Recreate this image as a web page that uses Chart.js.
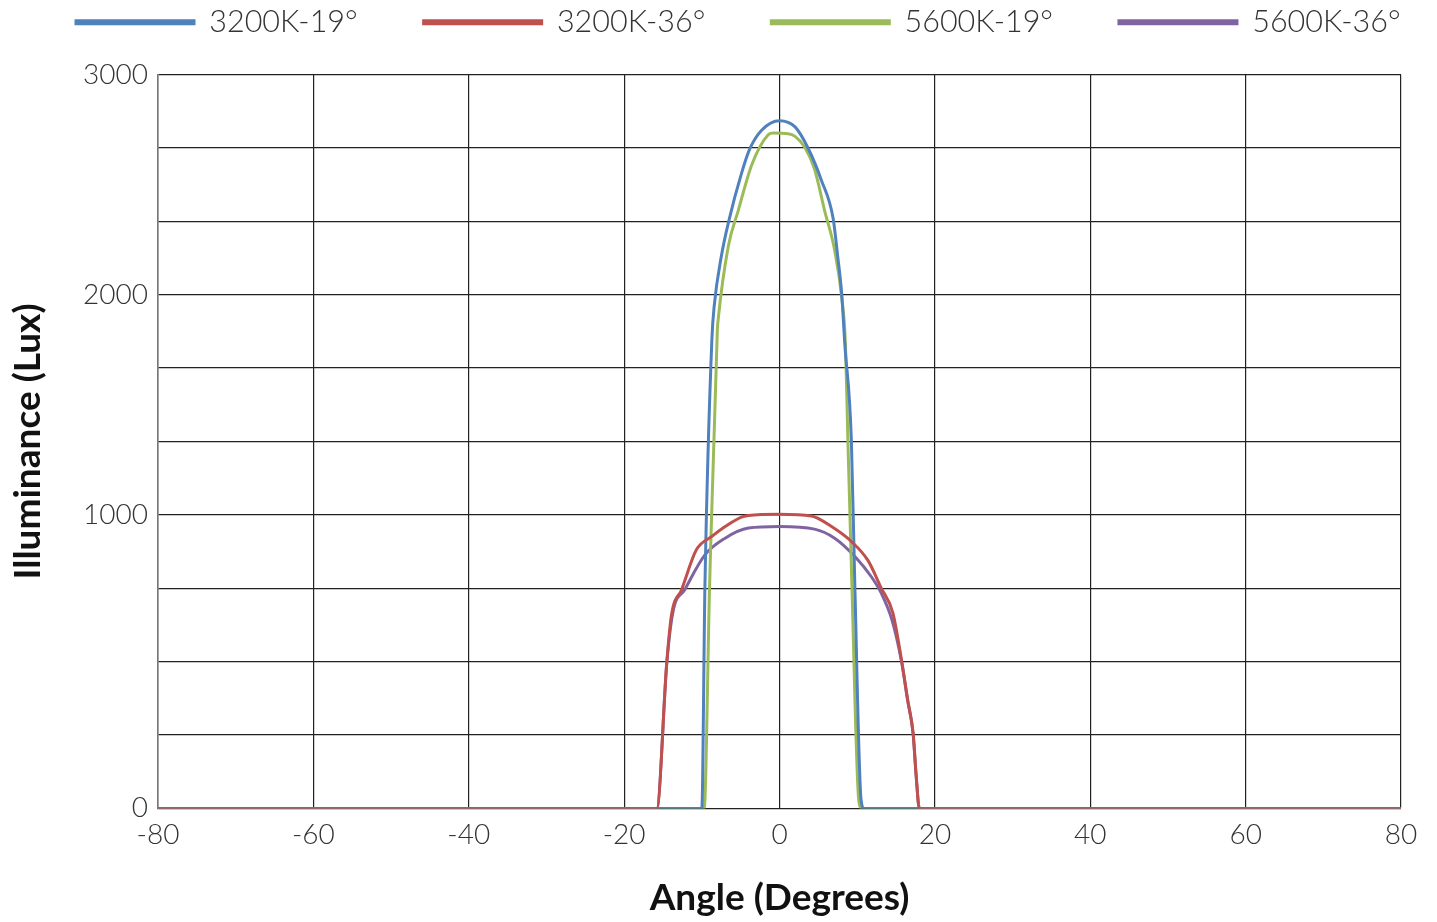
<!DOCTYPE html>
<html>
<head>
<meta charset="utf-8">
<script src="https://cdn.jsdelivr.net/npm/chart.js@4.4.1/dist/chart.umd.min.js"></script>
<style>
  html, body { margin: 0; padding: 0; background: #fff; }
  #wrap { width: 1437px; height: 922px; position: relative; }
</style>
</head>
<body>
<div id="wrap"><canvas id="beamChart"></canvas></div>
<script>
// --- DATA ---
// bottom of the plot (the line labelled "0" in the original)
const B = -1000 / 3;

const seriesNames = ['3200K-19°', '3200K-36°', '5600K-19°', '5600K-36°'];
const seriesColors = ['#4f81bd', '#c0504d', '#9bbb59', '#8064a2'];

const ang3200_19 = [-80, -10, -9.6, -8.7, -8.4, -7.5, -6.5, -4.9, -3.8, -2.3, 0, 2, 3.7, 5.4, 6.9, 7.5, 8, 8.4, 9.25, 9.7, 10.5, 10.9, 80];
const lux3200_19 = [B, B, 674, 1800, 1950, 2172, 2339, 2550, 2664, 2747, 2790, 2762, 2664, 2519, 2347, 2172, 2006, 1779, 1340, 674, -294, B, B];

const ang3200_36 = [-80, -15.8, -14.5, -13.9, -12.6, -10.7, -8.7, -7.0, -4.9, -4.0, 0, 4.1, 6.7, 9.25, 11.4, 13.1, 14.6, 15.7, 16.5, 17.2, 17.6, 18.0, 80];
const lux3200_36 = [B, B, 334, 546, 660, 841, 902, 947, 990, 997, 1003, 995, 947, 879, 792, 667, 554, 342, 160, 8, -188, B, B];

const ang5600_19 = [-80, -9.7, -9.0, -8.0, -7.9, -6.6, -5.3, -3.6, -1.45, -0.8, 1.1, 2, 3.25, 4.5, 5.8, 7.1, 8, 8.5, 8.8, 9.3, 10.2, 10.6, 80];
const lux5600_19 = [B, B, 674, 1840, 1885, 2218, 2383, 2587, 2726, 2734, 2731, 2719, 2670, 2572, 2383, 2202, 1990, 1764, 1340, 705, -294, B, B];

const ang5600_36 = [-80, -15.8, -14.5, -13.7, -12.2, -9.6, -7.0, -4.0, 0, 4.5, 7.1, 9.7, 11.8, 13.1, 14.5, 15.7, 16.5, 17.2, 17.6, 18.0, 80];
const lux5600_36 = [B, B, 330, 561, 660, 818, 894, 940, 947, 935, 894, 811, 720, 644, 520, 335, 155, 5, -190, B, B];

const xTicks = [-80, -60, -40, -20, 0, 20, 40, 60, 80];
const yGrid = [B, 0, 1000/3, 2000/3, 1000, 4000/3, 5000/3, 2000, 7000/3, 8000/3, 3000];
const yLabels = { '0': B, '1000': 1000, '2000': 2000, '3000': 3000 };

// --- SETUP ---
function pts(xs, ys) { return xs.map((x, i) => ({ x: x, y: ys[i] })); }

const allAngles = [ang3200_19, ang3200_36, ang5600_19, ang5600_36];
const allLux = [lux3200_19, lux3200_36, lux5600_19, lux5600_36];
const drawOrder = [1, 0, 2, 3];

const FONT = 'Lato, "Open Sans", sans-serif';

// keep the legend on one row and leave room between legend and plot
const legendGap = {
    id: 'legendGap',
    beforeInit(chart) {
        const lg = chart.legend;
        const fit = lg.fit;
        const draw = lg.draw;
        lg.fit = function () {
            const mw = this.maxWidth;
            this.maxWidth = 3000;
            fit.call(this);
            this.maxWidth = mw;
            this.width = mw;
            this.height += 27;
        };
        lg.draw = function () {
            const r = this.right;
            this.right = 3000;
            draw.call(this);
            this.right = r;
        };
    }
};

const ctx = document.getElementById('beamChart').getContext('2d');
const chart = new Chart(ctx, {
    type: 'line',
    plugins: [legendGap],
    data: {
        datasets: seriesNames.map((name, i) => ({
            label: name,
            data: pts(allAngles[i], allLux[i]),
            borderColor: seriesColors[i],
            backgroundColor: seriesColors[i],
            borderWidth: 3,
            pointRadius: 0,
            cubicInterpolationMode: 'monotone',
            order: drawOrder[i]
        }))
    },
    options: {
        responsive: true,
        maintainAspectRatio: false,
        animation: false,
        layout: { padding: { left: 10, right: 36, top: -59, bottom: 5 } },
        plugins: {
            tooltip: { enabled: false },
            legend: {
                position: 'top',
                align: 'start',
                labels: {
                    boxWidth: 118,
                    boxHeight: 3,
                    padding: 66,
                    color: '#333',
                    font: { family: FONT, size: 30.5, weight: '300' },
                    sort: (a, b) => a.datasetIndex - b.datasetIndex
                }
            }
        },
        scales: {
            x: {
                type: 'linear',
                min: -80,
                max: 80,
                afterBuildTicks: (s) => { s.ticks = xTicks.map(v => ({ value: v })); },
                grid: { color: '#222', lineWidth: 1.2, drawTicks: false },
                border: { display: false },
                ticks: { padding: 10, color: '#333', font: { family: FONT, size: 28, weight: '300' } },
                title: {
                    display: true,
                    text: 'Angle (Degrees)',
                    color: '#111',
                    padding: { top: 18, bottom: 0 },
                    font: { family: FONT, size: 37, weight: 'bold', lineHeight: 1 }
                }
            },
            y: {
                type: 'linear',
                min: B,
                max: 3000,
                afterBuildTicks: (s) => { s.ticks = yGrid.map(v => ({ value: v })); },
                afterFit: (s) => { s.width = 148; },
                grid: { color: '#222', lineWidth: 1.2, drawTicks: false },
                border: { display: true, color: '#777', width: 1.5 },
                ticks: {
                    padding: 10,
                    color: '#333',
                    font: { family: FONT, size: 28, weight: '300' },
                    callback: (v) => {
                        for (const k in yLabels) {
                            if (Math.abs(yLabels[k] - v) < 1) return k;
                        }
                        return '';
                    }
                },
                title: {
                    display: true,
                    text: 'Illuminance (Lux)',
                    color: '#111',
                    padding: { top: 0, bottom: 0 },
                    font: { family: FONT, size: 37, weight: 'bold', lineHeight: 1 }
                }
            }
        }
    }
});
</script>
</body>
</html>
